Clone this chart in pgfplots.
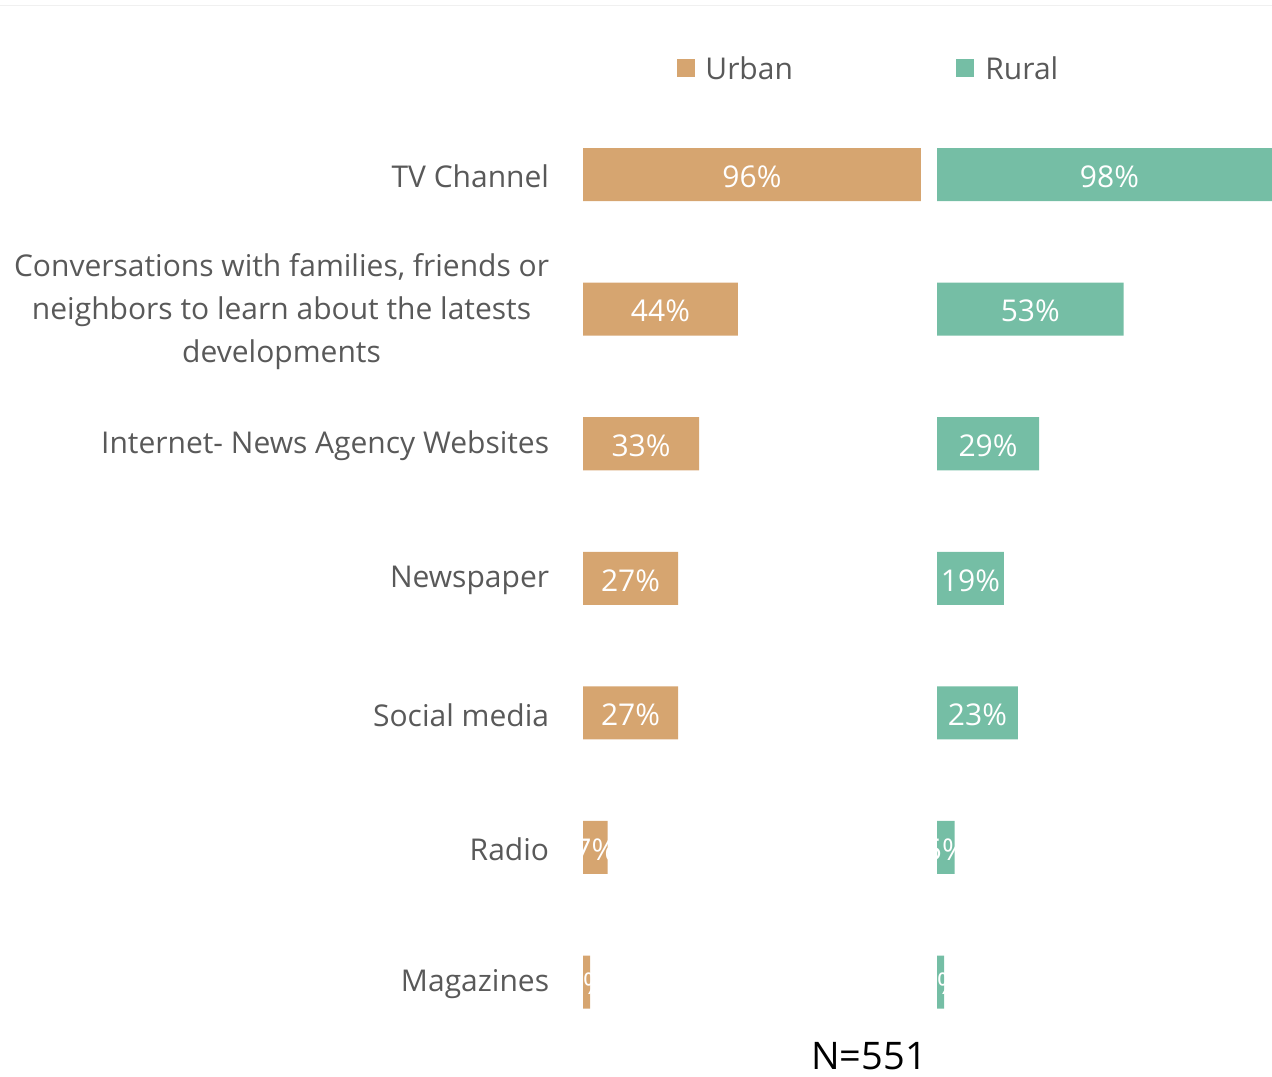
\documentclass[border=0pt]{standalone}
\usepackage{fontspec}
\setmainfont{Open Sans}
\usepackage{pgfplots}
\pgfplotsset{compat=1.18}

\definecolor{urban}{HTML}{D6A570}
\definecolor{rural}{HTML}{75BEA5}
\definecolor{txt}{HTML}{595959}

\pgfplotstableread{
idx urban rural
0 96 98
1 44 53
2 33 29
3 27 19
4 27 23
5 7 5
6 2 2
}\sources

\pgfplotsset{
  panel/.style={
    scale only axis,
    height=471pt, width=176pt,
    xmin=0, xmax=100, ymin=-0.5, ymax=6.5,
    y dir=reverse,
    axis line style={draw=none},
    tick style={draw=none},
    xtick=\empty,
    xbar, bar width=0.394,
    /pgf/number format/assume math mode=true,
    nodes near coords={\pgfmathprintnumber{\pgfplotspointmeta}\%},
    visualization depends on={rawx \as \rx},
    every node near coord/.append style={font=\fontsize{15}{18}\selectfont, text=white, anchor=center, xshift=-\rx*0.88pt, yshift=-1pt},
  },
}

\begin{document}
\begin{tikzpicture}
\clip (0,0) rectangle (636pt,-538pt);
\draw[black!6] (0,-2.5pt) -- (636pt,-2.5pt);

% urban
\begin{axis}[panel,
  at={(291.5pt,-524.65pt)}, anchor=south west,
  ytick={0,...,6},
  yticklabels={TV Channel,
    {\begin{tabular}{@{}c@{}}Conversations with families, friends or\\neighbors to learn about the latests\\developments\end{tabular}},
    Internet- News Agency Websites, Newspaper, Social media, Radio, Magazines},
  yticklabel style={font=\fontsize{15}{21.5}\selectfont, text=txt, inner sep=0pt, xshift=-12.5pt, yshift=-1pt},
]
\addplot[fill=urban, draw=none] table[x=urban, y=idx] {\sources};
\end{axis}

% rural
\begin{axis}[panel,
  at={(468.5pt,-524.65pt)}, anchor=south west,
  ytick=\empty,
]
\addplot[fill=rural, draw=none] table[x=rural, y=idx] {\sources};
\end{axis}

% legend
\begin{scope}[x=0.5pt, y=-0.5pt]
\fill[urban] (677,59) rectangle (695,77);
\node[anchor=base west, inner sep=0pt, text=txt, font=\fontsize{15}{18}\selectfont] at (705,79) {Urban};
\fill[rural] (956,59) rectangle (974,77);
\node[anchor=base west, inner sep=0pt, text=txt, font=\fontsize{15}{18}\selectfont] at (985,79) {Rural};
\node[anchor=base, inner sep=0pt, text=black, font=\fontsize{19}{22}\selectfont] at (869,1069) {N=551};
\end{scope}
\end{tikzpicture}
\end{document}
